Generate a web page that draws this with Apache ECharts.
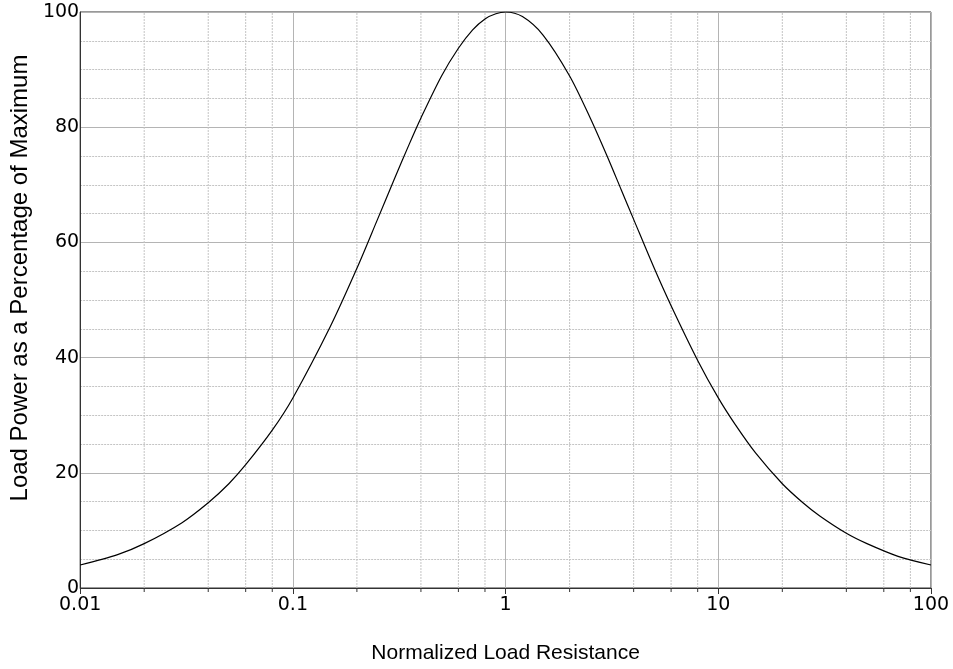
<!DOCTYPE html>
<html>
<head>
<meta charset="utf-8">
<script src="https://cdn.jsdelivr.net/npm/echarts@6/dist/echarts.min.js"></script>
<style>html,body{margin:0;padding:0;background:#fff;}#c{width:953px;height:669px;}</style>
</head>
<body>
<div id="c"></div>
<script>
// Normalized load resistance (x) and load power as % of maximum (y)
var resistance = [0.01, 0.015, 0.02, 0.03, 0.04, 0.05, 0.06, 0.08, 0.1, 0.15, 0.2, 0.25, 0.3, 0.35, 0.4, 0.5, 0.6, 0.7, 0.8, 0.9, 1, 1.2, 1.5, 2, 2.5, 3, 3.5, 4, 5, 6, 8, 10, 12, 15, 20, 25, 30, 40, 50, 70, 100];
var powerPct = [4.0, 5.8, 7.7, 11.3, 14.8, 18.1, 21.4, 27.4, 33.0, 45.4, 55.5, 64.0, 71.0, 76.8, 81.6, 88.9, 93.7, 96.9, 98.8, 99.7, 100, 99.2, 96.0, 88.9, 81.6, 75.0, 69.1, 64.0, 55.5, 49.0, 39.5, 33.0, 28.4, 23.4, 18.1, 14.8, 12.5, 9.5, 7.7, 5.5, 4.0];
var xMinorTicks = [0.02, 0.04, 0.06, 0.08, 0.2, 0.4, 0.6, 0.8, 2, 4, 6, 8, 20, 40, 60, 80];
var xTickLabels = ['0.01', '0.1', '1', '10', '100'];
var yTicks = [0, 20, 40, 60, 80, 100];

var chart = echarts.init(document.getElementById('c'));
var axisCol = '#333333';
chart.setOption({
  animation: false,
  grid: {left: 68, right: 22, top: 12, bottom: 78, show: true, borderColor: axisCol, borderWidth: 1},
  xAxis: {
    type: 'log', logBase: 10, min: 0.01, max: 100,
    name: 'Normalized Load Resistance', nameLocation: 'middle', nameGap: 55,
    nameTextStyle: {fontFamily: 'Liberation Sans, Arial', fontSize: 21, color: '#000'},
    axisLine: {show: true, lineStyle: {color: axisCol, width: 1}},
    axisTick: {show: true, length: 6, inside: false, lineStyle: {color: axisCol}},
    axisLabel: {fontFamily: 'DejaVu Sans', fontSize: 19, color: '#000', margin: 8,
      formatter: function (v) { var s = String(+v.toPrecision(3)); return xTickLabels.indexOf(s) >= 0 ? s : ''; }},
    splitLine: {show: true, lineStyle: {color: '#b4b4b4', width: 1}}
  },
  yAxis: {
    type: 'value', min: yTicks[0], max: yTicks[yTicks.length - 1], interval: 20,
    name: 'Load Power as a Percentage of Maximum', nameLocation: 'middle', nameGap: 36,
    nameTextStyle: {fontFamily: 'Liberation Sans, Arial', fontSize: 24, color: '#000', padding: [0, 0, 0, 44]},
    axisLine: {show: true, lineStyle: {color: axisCol, width: 1}},
    axisTick: {show: false},
    axisLabel: {fontFamily: 'DejaVu Sans', fontSize: 19, color: '#000', margin: 1},
    splitLine: {show: true, lineStyle: {color: '#b4b4b4', width: 1}},
    minorTick: {show: false, splitNumber: 4},
    minorSplitLine: {show: true, lineStyle: {color: '#c4c4c4', width: 1, type: [2, 1]}}
  },
  series: [
    {
      type: 'custom',
      clip: false,
      silent: true,
      z: 1,
      data: xMinorTicks.map(function (v) { return [v]; }),
      renderItem: function (params, api) {
        var top = api.coord([api.value(0), 100]);
        var bot = api.coord([api.value(0), 0]);
        return {type: 'group', children: [
          {type: 'line', shape: {x1: bot[0], y1: bot[1], x2: top[0], y2: top[1]},
           style: {stroke: '#c4c4c4', lineWidth: 1, lineDash: [2, 1]}},
          {type: 'line', shape: {x1: bot[0], y1: bot[1], x2: bot[0], y2: bot[1] + 4},
           style: {stroke: axisCol, lineWidth: 1}}
        ]};
      }
    },
    {
      type: 'line',
      data: resistance.map(function (r, i) { return [r, powerPct[i]]; }),
      smooth: 0.3,
      showSymbol: false,
      z: 5,
      lineStyle: {color: '#000', width: 1.2}
    }
  ]
});
</script>
</body>
</html>
